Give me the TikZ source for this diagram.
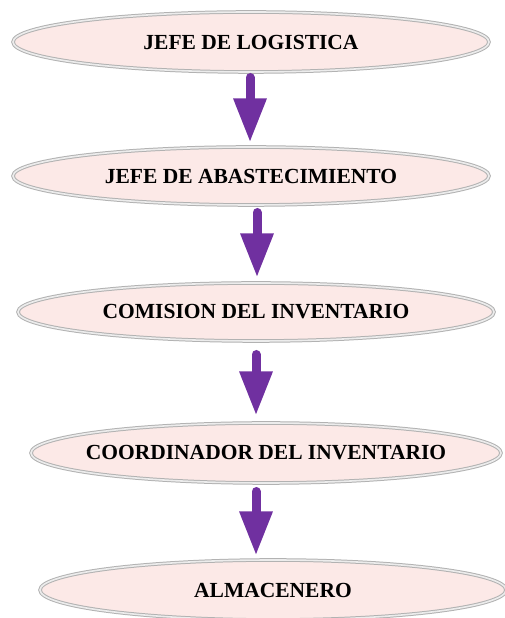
\documentclass[tikz,border=0pt]{standalone}
\usepackage{fontspec}
\setmainfont{Liberation Serif}
\usetikzlibrary{shapes.geometric,arrows.meta}
\definecolor{rosa}{HTML}{FCE9E7}
\definecolor{morado}{HTML}{7030A0}
\begin{document}
\begin{tikzpicture}[x=1pt,y=1pt,
  cargo/.style={ellipse, draw=gray!60, double=gray!15, double distance=1.6pt, line width=1pt,
    fill=rosa, inner xsep=-40pt, inner ysep=0pt, font=\fontsize{21.5}{24}\selectfont\bfseries},
  flecha/.style={morado, line width=9pt, line cap=round, -{Triangle[width=31pt,length=44pt]}}]

\useasboundingbox (0,0) rectangle (504,618);

\node [cargo, minimum width=476pt, minimum height=60pt] (j1) at (251,576) {JEFE DE LOGISTICA};
\node [cargo, minimum width=476pt, minimum height=58pt] (j2) at (251,442) {JEFE DE ABASTECIMIENTO};
\node [cargo, minimum width=476pt, minimum height=58pt] (j3) at (256,306) {COMISION DEL INVENTARIO};
\node [cargo, minimum width=470pt, minimum height=60pt] (j4) at (266,165) {COORDINADOR DEL INVENTARIO};
\node [cargo, minimum width=466pt, minimum height=60pt] (j5) at (273,28) {ALMACENERO};

\draw [flecha] ([shift={(-1,-5)}]j1.south) -- ([shift={(-1,4)}]j2.north);
\draw [flecha] ([shift={(6,-7)}]j2.south) -- ([shift={(1,5)}]j3.north);
\draw [flecha] ([shift={(0,-13)}]j3.south) -- ([shift={(-10,7)}]j4.north);
\draw [flecha] ([shift={(-10,-8)}]j4.south) -- ([shift={(-17,4)}]j5.north);

\end{tikzpicture}
\end{document}
